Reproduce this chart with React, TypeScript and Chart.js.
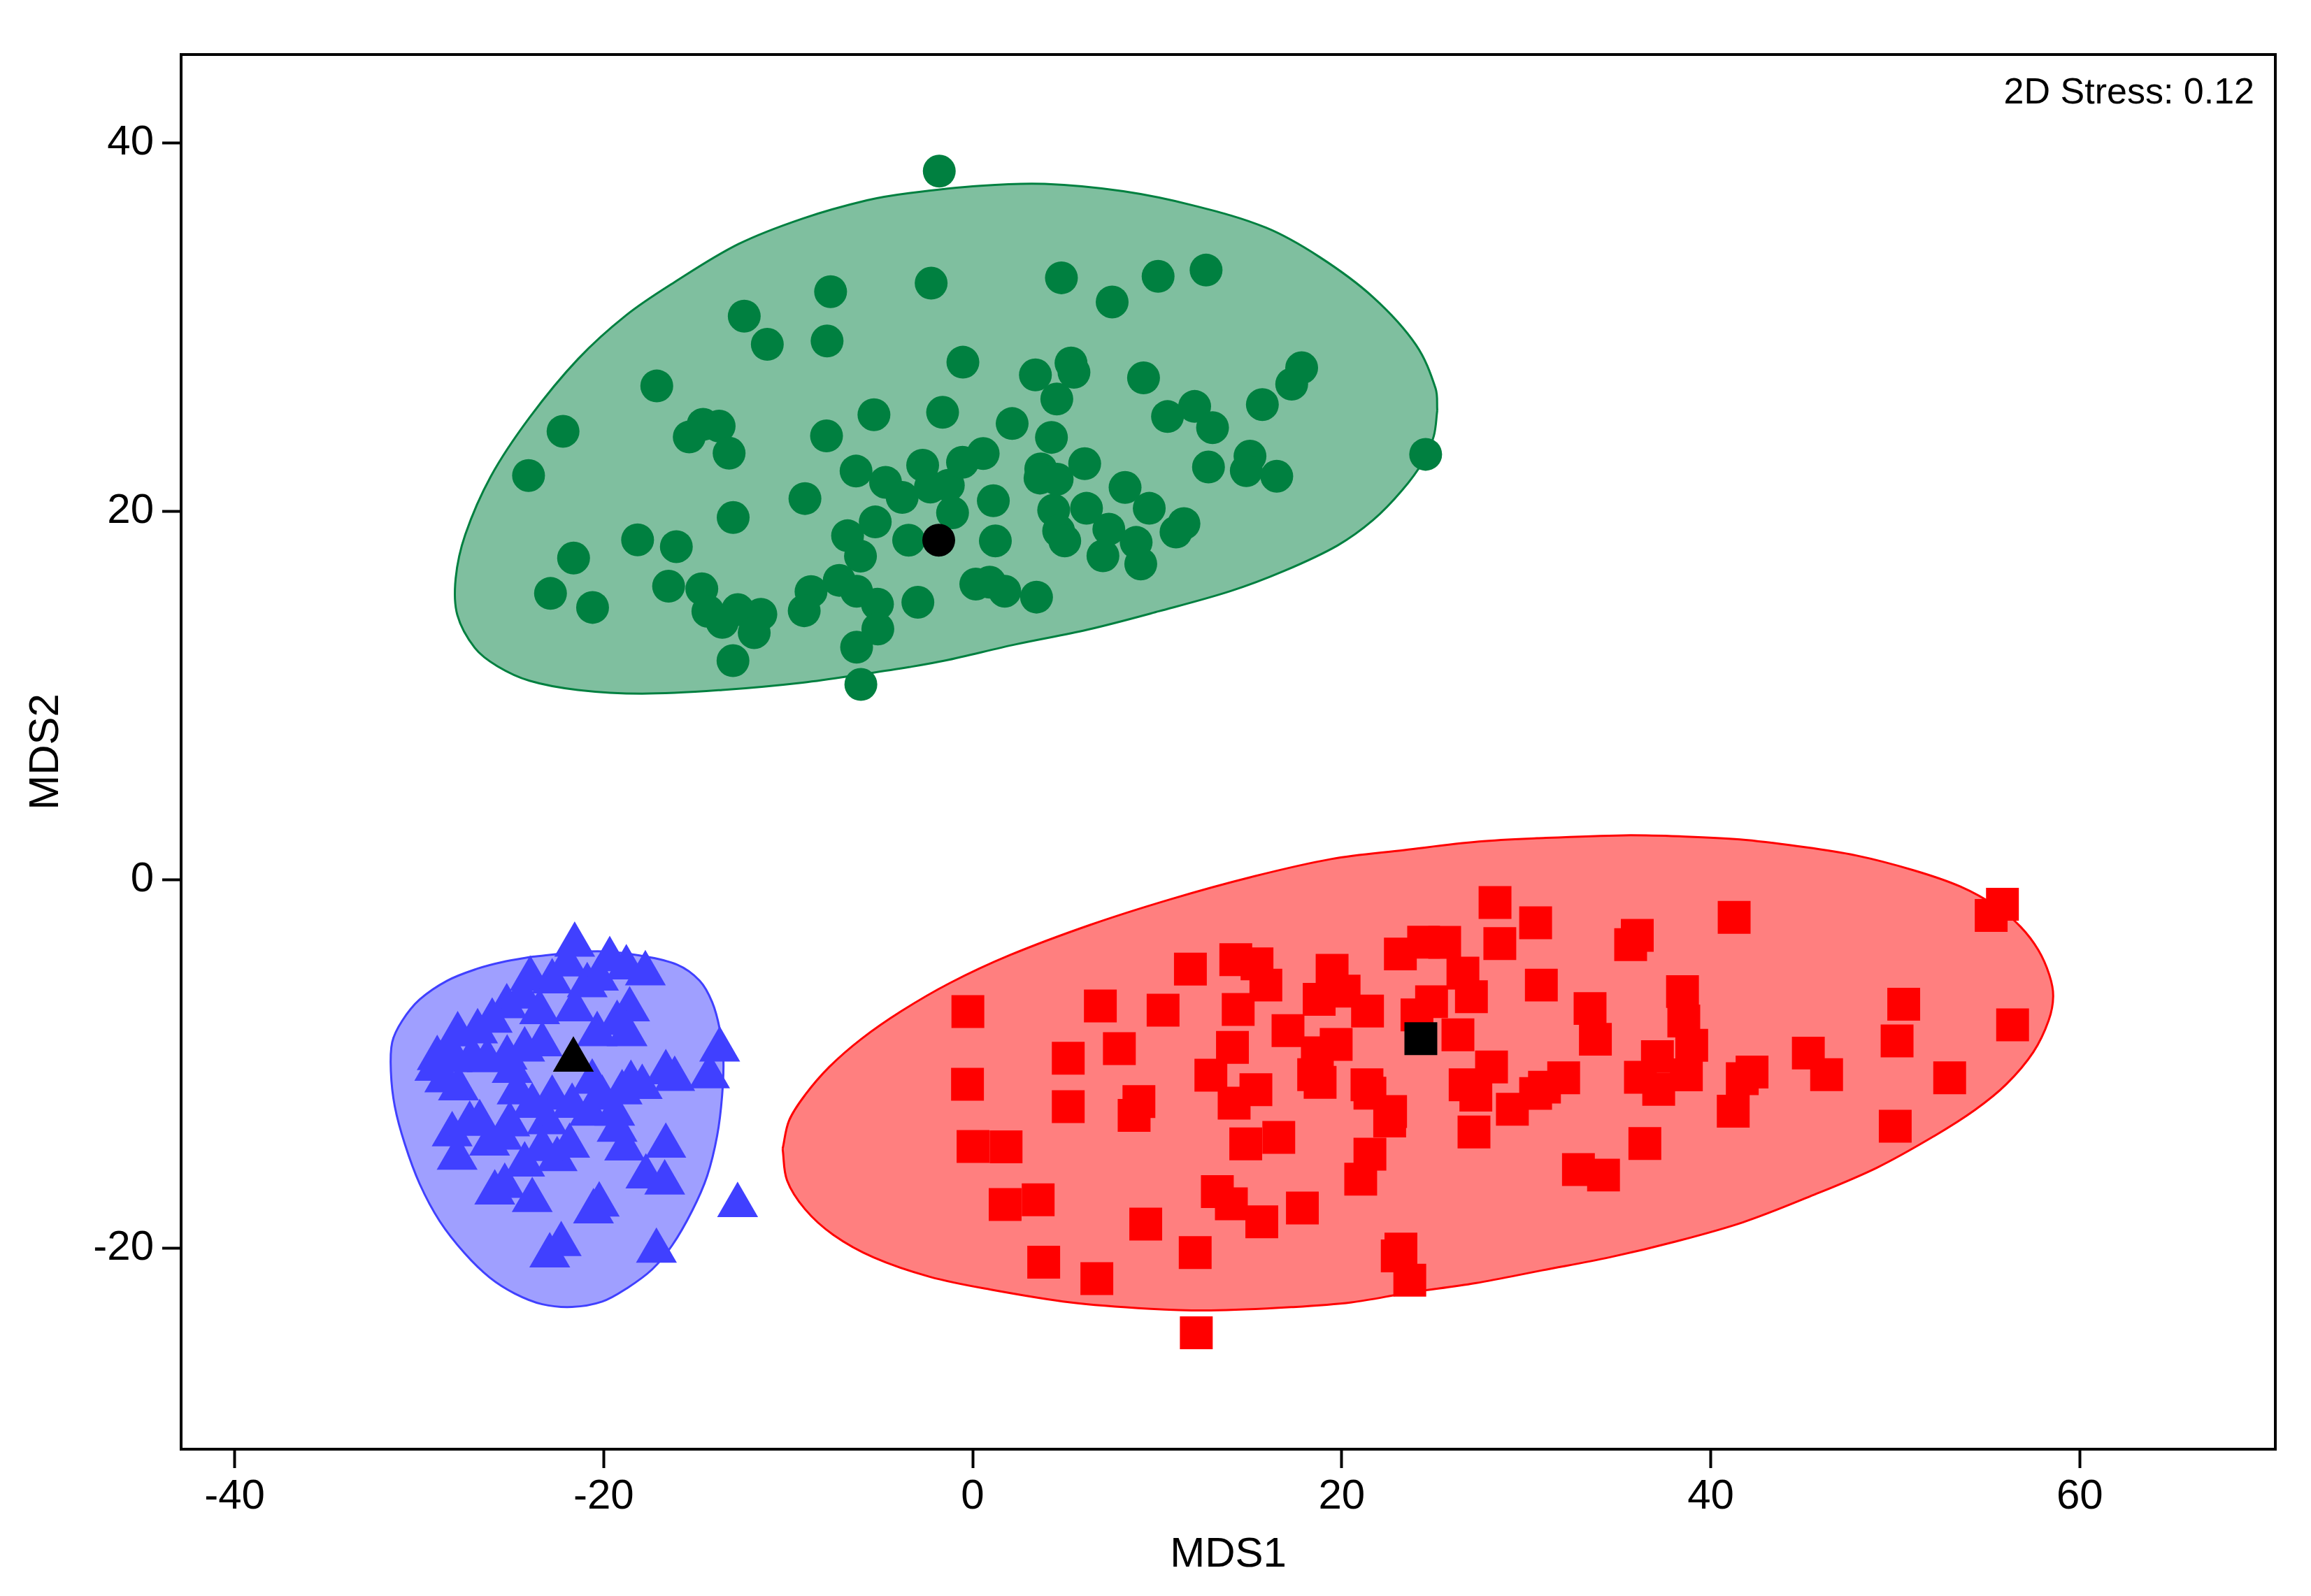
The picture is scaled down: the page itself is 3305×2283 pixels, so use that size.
import React, { useEffect, useRef } from 'react';
import { Chart, registerables } from 'chart.js';

Chart.register(...registerables);

// ---------- data ----------
const xTickValues = [-40, -20, 0, 20, 40, 60];
const yTickValues = [-20, 0, 20, 40];
const xAxisRange = [-42.9, 70.6];
const yAxisRange = [-30.9, 44.8];
const xAxisTitle = 'MDS1';
const yAxisTitle = 'MDS2';
const stressLabel = '2D Stress: 0.12';

const greenPoints: [number, number][] = [
  [-7.70, 31.93], [-12.38, 30.60], [-11.13, 29.07], [-7.89, 29.25], [-17.12, 26.81], [-22.20, 24.35],
  [-14.61, 24.73], [-13.74, 24.63], [-15.36, 24.04], [-13.20, 23.16], [-7.92, 24.10], [-5.35, 25.25],
  [-24.07, 21.95], [-6.32, 22.19], [-4.72, 21.58], [-3.82, 20.76], [-9.09, 20.70], [-12.98, 19.67],
  [-18.16, 18.46], [-16.06, 18.09], [-21.63, 17.47], [-6.78, 18.68], [-5.28, 19.43], [-6.08, 17.57],
  [-3.47, 18.44], [-22.88, 15.55], [-20.60, 14.79], [-16.48, 15.94], [-14.68, 15.80], [-14.35, 14.58],
  [-13.57, 13.98], [-12.73, 14.67], [-11.48, 14.42], [-11.84, 13.42], [-8.76, 15.65], [-9.13, 14.61],
  [-7.23, 16.26], [-6.29, 15.67], [-5.16, 14.97], [-5.14, 13.62], [-6.29, 12.63], [-12.99, 11.90],
  [-6.06, 10.61],
  [-1.81, 38.47], [-2.25, 32.39], [4.81, 32.68], [7.56, 31.37], [10.05, 32.76], [12.65, 33.10],
  [-0.53, 28.10], [3.40, 27.41], [5.33, 28.06], [5.49, 27.55], [4.56, 26.10], [9.26, 27.25],
  [-1.63, 25.38], [2.14, 24.77], [4.27, 24.02], [10.56, 25.15], [12.03, 25.70], [13.00, 24.55],
  [17.83, 27.80], [17.29, 26.91], [15.70, 25.80], [24.55, 23.10], [-2.71, 22.51], [-2.29, 21.32],
  [-1.32, 21.42], [-0.55, 22.67], [0.57, 23.14], [-1.09, 19.93], [1.12, 20.58], [3.69, 22.31],
  [3.65, 21.81], [4.58, 21.75], [6.07, 22.59], [4.39, 20.07], [6.17, 20.17], [8.26, 21.30],
  [9.57, 20.17], [4.66, 18.94], [4.99, 18.40], [7.38, 19.04], [8.86, 18.32], [7.06, 17.59],
  [9.11, 17.15], [11.45, 19.34], [11.02, 18.88], [12.78, 22.41], [15.03, 23.00], [14.83, 22.21],
  [16.48, 21.91], [1.23, 18.40], [-2.97, 15.07], [0.17, 16.06], [0.92, 16.16], [1.74, 15.67],
  [3.46, 15.35],
];

const bluePoints: [number, number][] = [
  [-21.57, -3.53], [-18.77, -4.76], [-17.74, -5.08], [-20.28, -5.37], [-23.98, -5.37], [-22.79, -5.52],
  [-20.89, -5.73], [-25.25, -6.87], [-21.57, -7.04], [-18.59, -7.04], [-23.47, -7.19], [-19.27, -7.77],
  [-27.91, -8.39], [-26.83, -8.23], [-28.34, -9.29], [-28.21, -9.80], [-28.61, -10.89], [-27.87, -11.32],
  [-26.31, -9.80], [-25.23, -9.65], [-24.28, -9.22], [-23.33, -8.93], [-24.96, -10.38], [-24.69, -11.54],
  [-22.79, -11.83], [-20.62, -10.96], [-20.08, -11.83], [-19.00, -11.54], [-18.52, -11.03], [-13.71, -9.22],
  [-16.63, -10.45], [-16.15, -10.81], [-14.26, -10.67], [-17.91, -11.25], [-23.87, -12.27], [-21.71, -12.27],
  [-20.76, -12.70], [-19.40, -12.70], [-25.09, -13.28], [-25.50, -14.00], [-24.28, -15.46], [-21.84, -14.44],
  [-19.27, -13.57], [-18.86, -14.59], [-16.63, -14.44], [-17.71, -16.11], [-16.69, -16.44], [-28.21, -13.82],
  [-27.26, -13.25], [-27.94, -15.09], [-25.36, -16.62], [-25.90, -16.98], [-23.87, -17.39], [-20.24, -17.63],
  [-20.55, -18.00], [-22.30, -19.78], [-22.92, -20.39], [-17.14, -20.14], [-12.74, -17.66], [-22.52, -15.17],
  [-29.15, -10.26], [-29.02, -9.68], [-27.12, -9.68], [-26.04, -7.65], [-24.41, -6.34], [-21.98, -4.60],
  [-19.67, -4.31], [-18.73, -8.38], [-20.35, -8.38], [-26.72, -13.16], [-26.18, -14.32], [-23.06, -13.16],
  [-23.33, -14.62],
];

const redPoints: [number, number][] = [
  [-0.26, -7.15], [6.92, -6.84], [10.32, -7.07], [11.80, -4.84], [14.26, -4.33], [15.41, -4.56],
  [15.89, -5.71], [14.39, -7.03], [19.48, -4.91], [18.78, -6.48], [20.13, -6.04], [21.40, -7.12],
  [5.18, -9.68], [7.95, -9.16], [-0.28, -11.09], [5.18, -12.31], [9.01, -12.03], [8.75, -12.78],
  [14.08, -9.09], [12.91, -10.60], [15.35, -11.39], [14.17, -12.12], [17.09, -8.18], [18.68, -9.38],
  [19.70, -8.93], [18.48, -10.57], [18.83, -10.99], [21.37, -11.12], [21.53, -11.58], [0.02, -14.47],
  [1.81, -14.49], [14.80, -14.33], [16.59, -13.98], [21.53, -14.89], [21.03, -16.24], [1.76, -17.62],
  [3.55, -17.36], [9.38, -18.68], [13.26, -16.92], [14.02, -17.58], [15.67, -18.56], [17.87, -17.81],
  [3.85, -20.75], [6.73, -21.64], [12.06, -20.23], [12.12, -24.58],
  [28.31, -1.23], [30.51, -2.33], [24.44, -3.38], [25.58, -3.39], [23.18, -4.02], [28.57, -3.46],
  [36.02, -3.01], [35.66, -3.51], [41.27, -2.03], [55.81, -1.32], [55.20, -1.93], [26.57, -5.06],
  [27.03, -6.34], [30.82, -5.71], [24.87, -6.61], [24.08, -7.33], [26.30, -8.41], [33.46, -6.98],
  [33.75, -8.65], [38.47, -6.06], [38.54, -7.66], [38.97, -8.98], [37.11, -9.59], [36.19, -10.71],
  [37.18, -11.37], [38.68, -10.58], [28.12, -10.15], [26.69, -11.12], [27.27, -11.68], [30.51, -11.59],
  [32.03, -10.74], [30.99, -11.25], [29.25, -12.45], [27.17, -13.68], [22.65, -12.57], [22.60, -13.09],
  [41.71, -10.79], [42.24, -10.43], [41.22, -12.55], [45.29, -9.40], [46.28, -10.57], [50.46, -6.75],
  [50.10, -8.74], [56.36, -7.87], [52.95, -10.74], [50.00, -13.37], [36.43, -14.31], [32.83, -15.72],
  [34.19, -16.02], [23.21, -20.04], [23.01, -20.41], [23.69, -21.73],
];

const greenCentroid: [number, number] = [-1.84, 18.44];
const blueCentroid: [number, number] = [-21.64, -9.77];
const redCentroid: [number, number] = [24.29, -8.62];

const greenOutline: [number, number][] = [
  [25.18, 25.48], [25.09, 26.67], [24.02, 29.05], [21.70, 31.63], [18.80, 33.81], [15.90, 35.40],
  [12.03, 36.59], [8.16, 37.38], [3.90, 37.78], [0.42, 37.68], [-3.45, 37.28], [-5.73, 36.89],
  [-9.21, 35.90], [-12.70, 34.51], [-16.18, 32.43], [-18.79, 30.64], [-21.40, 28.26], [-24.02, 25.09],
  [-26.11, 21.91], [-27.50, 18.74], [-28.02, 16.36], [-27.93, 14.38], [-26.98, 12.59], [-25.76, 11.60],
  [-24.02, 10.81], [-21.40, 10.31], [-17.92, 10.11], [-13.57, 10.31], [-9.21, 10.71], [-5.73, 11.20],
  [-3.45, 11.55], [-1.52, 11.90], [2.35, 12.79], [6.22, 13.58], [10.09, 14.58], [13.96, 15.67],
  [16.86, 16.76], [19.77, 18.15], [21.70, 19.53], [23.25, 21.12], [24.41, 22.71], [24.99, 24.09],
  [25.18, 25.48],
];

const blueOutline: [number, number][] = [
  [-23.87, -4.17], [-21.71, -3.95], [-20.08, -3.88], [-18.05, -4.10], [-16.02, -4.60], [-14.80, -5.47],
  [-14.12, -6.63], [-13.71, -8.09], [-13.51, -9.68], [-13.58, -11.71], [-13.85, -13.89], [-14.39, -16.07],
  [-15.20, -17.95], [-16.29, -19.84], [-17.37, -21.14], [-18.73, -22.16], [-20.08, -22.89], [-21.71, -23.18],
  [-23.33, -23.03], [-24.82, -22.45], [-26.18, -21.58], [-27.53, -20.27], [-28.88, -18.53], [-29.97, -16.50],
  [-30.78, -14.32], [-31.32, -12.29], [-31.53, -10.41], [-31.46, -8.81], [-30.92, -7.65], [-29.97, -6.49],
  [-28.48, -5.47], [-26.85, -4.82], [-25.50, -4.46], [-23.87, -4.17],
];

const redOutline: [number, number][] = [
  [-10.30, -14.60], [-9.95, -13.06], [-9.08, -11.67], [-7.77, -10.15], [-6.03, -8.63], [-3.86, -7.12],
  [-1.24, -5.60], [2.02, -4.08], [6.37, -2.44], [10.72, -1.05], [15.07, 0.15], [19.42, 1.13],
  [23.40, 1.62], [27.44, 2.08], [30.58, 2.26], [35.29, 2.42], [38.44, 2.36], [41.58, 2.20],
  [44.73, 1.83], [47.87, 1.33], [51.01, 0.52], [53.53, -0.36], [55.50, -1.45], [56.80, -2.55],
  [57.75, -3.80], [58.35, -5.15], [58.56, -6.30], [58.32, -7.61], [57.48, -9.35], [56.02, -11.09],
  [54.33, -12.48], [52.15, -13.88], [49.01, -15.62], [45.38, -17.18], [41.76, -18.58], [38.13, -19.62],
  [34.50, -20.49], [30.87, -21.19], [27.24, -21.89], [23.62, -22.41], [20.53, -22.93], [17.26, -23.19],
  [12.91, -23.37], [9.64, -23.28], [5.29, -22.93], [0.94, -22.23], [-2.33, -21.54], [-5.37, -20.49],
  [-7.55, -19.27], [-9.08, -17.88], [-10.06, -16.31], [-10.30, -14.60],
];

// ---------- styles ----------
const FONT = '"Liberation Sans", Arial, sans-serif';
const GREEN = '#008040';
const BLUE = '#4040FF';
const RED = '#FF0000';

const toXY = (arr: [number, number][]) => arr.map(([x, y]) => ({ x, y }));

const outlineDataset = (data: [number, number][], color: string, fill: string) => ({
  data: toXY(data),
  showLine: true,
  fill: 'shape',
  backgroundColor: fill,
  borderColor: color,
  borderWidth: 3,
  tension: 0.35,
  pointRadius: 0,
  pointHoverRadius: 0,
  order: 5,
});

const pointDataset = (data: [number, number][], color: string, style: string, radius: number, order = 2) => ({
  data: toXY(data),
  showLine: false,
  pointStyle: style,
  pointRadius: radius,
  pointHoverRadius: radius,
  pointBackgroundColor: color,
  pointBorderWidth: 0,
  backgroundColor: color,
  borderColor: color,
  borderWidth: 0,
  order,
});

const framePlugin = {
  id: 'frameAndStress',
  afterDraw(chart: any) {
    const { ctx, chartArea } = chart;
    const { left, top, right, bottom } = chartArea;
    ctx.save();
    ctx.strokeStyle = '#000';
    ctx.lineWidth = 4;
    ctx.strokeRect(left, top, right - left, bottom - top);
    ctx.fillStyle = '#000';
    ctx.font = `52px ${FONT}`;
    ctx.textAlign = 'right';
    ctx.textBaseline = 'alphabetic';
    ctx.fillText(stressLabel, right - 30, top + 70);
    ctx.restore();
  },
};

export default function App() {
  const canvasRef = useRef<HTMLCanvasElement | null>(null);

  useEffect(() => {
    if (!canvasRef.current) return;
    const chart = new Chart(canvasRef.current, {
      type: 'scatter',
      data: {
        datasets: [
          outlineDataset(greenOutline, GREEN, 'rgba(0,128,64,0.5)'),
          outlineDataset(blueOutline, BLUE, 'rgba(64,64,255,0.5)'),
          outlineDataset(redOutline, RED, 'rgba(255,0,0,0.5)'),
          pointDataset(greenPoints, GREEN, 'circle', 23.5),
          pointDataset(bluePoints, BLUE, 'triangle', 33.8),
          pointDataset(redPoints, RED, 'rect', 33.2),
          pointDataset([greenCentroid], '#000', 'circle', 23.5, 1),
          pointDataset([blueCentroid], '#000', 'triangle', 33.8, 1),
          pointDataset([redCentroid], '#000', 'rect', 33.2, 1),
        ] as any,
      },
      options: {
        animation: false,
        responsive: false,
        devicePixelRatio: 1,
        events: [],
        layout: { padding: { top: 78, right: 51, left: 0, bottom: 0 } },
        plugins: { legend: { display: false }, tooltip: { enabled: false }, title: { display: false } },
        scales: {
          x: {
            type: 'linear',
            min: xAxisRange[0],
            max: xAxisRange[1],
            afterBuildTicks: (s: any) => { s.ticks = xTickValues.map((v) => ({ value: v })); },
            afterFit: (s: any) => { s.height = 210; },
            grid: { drawOnChartArea: false, drawTicks: true, tickLength: 27, tickWidth: 4, tickColor: '#000', color: '#000' },
            border: { display: false },
            ticks: {
              color: '#000', font: { size: 60, family: FONT }, padding: 5, maxRotation: 0, autoSkip: false,
              callback: (v: any) => String(v),
            },
            title: { display: true, text: xAxisTitle, color: '#000', font: { size: 60, family: FONT }, padding: { top: 0, bottom: 23 } },
          },
          y: {
            type: 'linear',
            min: yAxisRange[0],
            max: yAxisRange[1],
            afterBuildTicks: (s: any) => { s.ticks = yTickValues.map((v) => ({ value: v })); },
            afterFit: (s: any) => { s.width = 259; },
            grid: { drawOnChartArea: false, drawTicks: true, tickLength: 27, tickWidth: 4, tickColor: '#000', color: '#000' },
            border: { display: false },
            ticks: {
              color: '#000', font: { size: 60, family: FONT }, padding: 12, autoSkip: false,
              callback: (v: any) => String(v),
            },
            title: { display: true, text: yAxisTitle, color: '#000', font: { size: 60, family: FONT }, padding: { top: 30, bottom: 0 } },
          },
        },
      } as any,
      plugins: [framePlugin],
    });
    return () => chart.destroy();
  }, []);

  return (
    <div style={{ position: 'fixed', left: 0, top: 0, width: 3305, height: 2283, background: '#fff' }}>
      <canvas ref={canvasRef} width={3305} height={2283} style={{ display: 'block', width: 3305, height: 2283 }} />
    </div>
  );
}
